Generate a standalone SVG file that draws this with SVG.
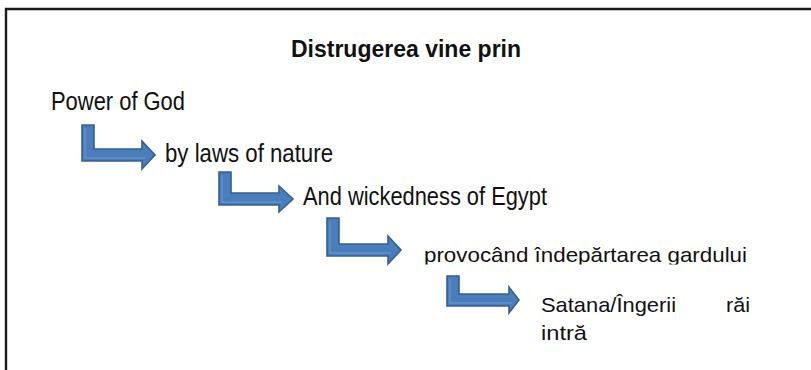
<svg xmlns="http://www.w3.org/2000/svg" width="811" height="370" viewBox="0 0 811 370">
<defs>
<style>
.t{font-family:"Liberation Sans",Arial,sans-serif;fill:#111;}
.arr{fill:#4A7DBA;stroke:#35608F;stroke-width:1.6;stroke-linejoin:miter;}
.hl{fill:none;stroke:#6F9BD1;stroke-width:1;}
</style>
<clipPath id="clip4"><rect x="400" y="230" width="400" height="34.5"/></clipPath>
</defs>
<rect width="811" height="370" fill="#fff"/>
<path d="M6,370 V9 H811" fill="none" stroke="#1a1a1a" stroke-width="2.4"/>
<g id="title"><text class="t" x="406" y="57" font-size="23" font-weight="bold" text-anchor="middle">Distrugerea vine prin</text></g>
<g id="n1"><text class="t" x="51" y="110" font-size="25" textLength="134" lengthAdjust="spacingAndGlyphs">Power of God</text></g>
<g id="n2"><text class="t" x="165" y="162" font-size="25" textLength="168" lengthAdjust="spacingAndGlyphs">by laws of nature</text></g>
<g id="n3"><text class="t" x="303" y="205" font-size="25" textLength="244" lengthAdjust="spacingAndGlyphs">And wickedness of Egypt</text></g>
<g id="n4" clip-path="url(#clip4)"><text class="t" x="424" y="262" font-size="21" textLength="323" lengthAdjust="spacingAndGlyphs">provocând îndepărtarea gardului</text></g>
<g id="n5"><text class="t" x="541" y="312" font-size="21" textLength="135" lengthAdjust="spacingAndGlyphs">Satana/Îngerii</text><text class="t" x="726" y="312" font-size="21" textLength="24" lengthAdjust="spacingAndGlyphs">răi</text><text class="t" x="541" y="340" font-size="21" textLength="46" lengthAdjust="spacingAndGlyphs">intră</text></g>
<g id="connectors">
<path class="arr" d="M82,125 H94 V149 H142 V141 L155,155 L142,169 V161 H82 Z"/>
<path class="hl" d="M85,128 V158 H145"/>
<path class="arr" d="M219,172 H231 V193 H279 V186 L293,199 L279,212 V205 H219 Z"/>
<path class="hl" d="M222,175 V202 H282"/>
<path class="arr" d="M327,218 H339 V244 H388 V236 L401,250 L388,264 V256 H327 Z"/>
<path class="hl" d="M330,221 V253 H391"/>
<path class="arr" d="M447,276 H459 V294 H509 V287 L519,300 L509,313 V306 H447 Z"/>
<path class="hl" d="M450,279 V303 H512"/>
</g>
</svg>
